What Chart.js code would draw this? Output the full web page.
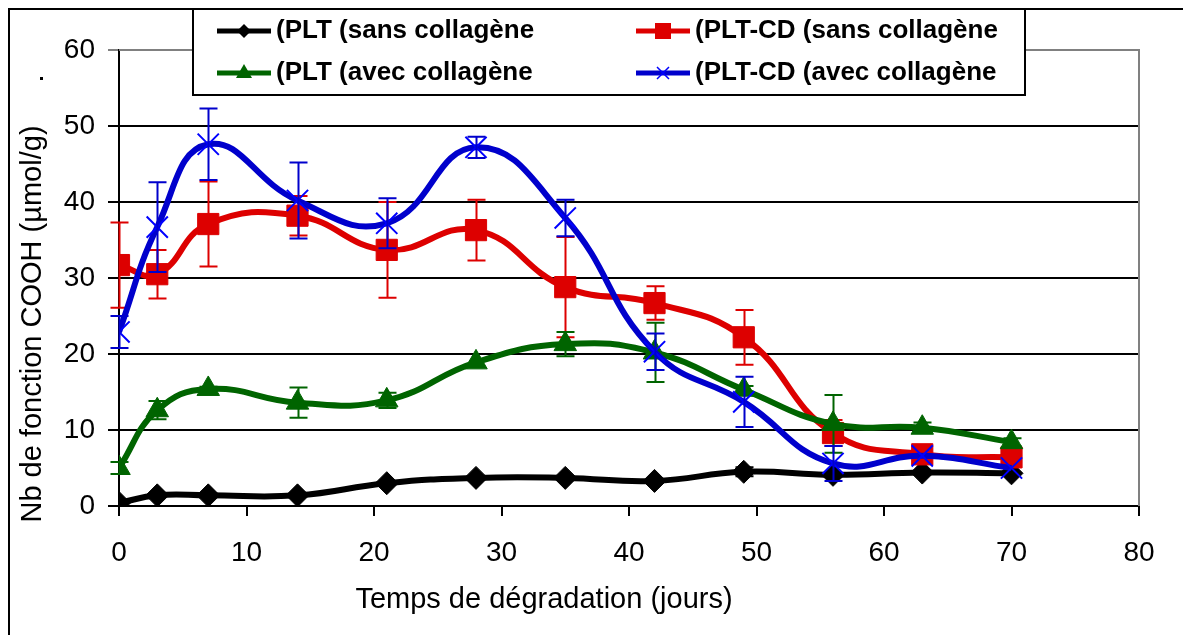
<!DOCTYPE html>
<html lang="fr">
<head>
<meta charset="UTF-8">
<title>Nb de fonction COOH</title>
<script src="https://cdn.jsdelivr.net/npm/chart.js"></script>
<style>
  html, body { margin: 0; padding: 0; background: #fff; }
  #wrap { width: 1183px; height: 635px; position: relative; }
</style>
</head>
<body>
<div id="wrap"><canvas id="chart"></canvas></div>
<script>
  // temps de dégradation (jours)
  const days = [0, 3, 7, 14, 21, 28, 35, 42, 49, 56, 63, 70];

  // Nb de fonction COOH (µmol/g)
  const pltSans = [0.4, 1.4, 1.4, 1.4, 3.0, 3.7, 3.7, 3.3, 4.5, 4.1, 4.4, 4.3];
  const pltcdSans = [31.7, 30.5, 37.1, 38.2, 33.7, 36.3, 28.8, 26.7, 22.2, 9.6, 6.8, 6.4];
  const pltAvec = [5.0, 12.6, 15.4, 13.6, 13.9, 18.9, 21.3, 20.2, 15.3, 10.8, 10.3, 8.4];
  const pltcdAvec = [22.9, 36.7, 47.6, 40.2, 37.2, 47.2, 37.9, 20.3, 13.7, 5.6, 6.6, 5.0];

  // error bars (+/-)
  const errPltSans = [0, 0, 0, 0, 0, 0, 0, 0, 0.6, 0, 0, 0];
  const errPltcdSans = [5.6, 3.2, 5.6, 2.6, 6.3, 4.0, 6.6, 2.2, 3.6, 1.7, 0, 0];
  const errPltAvec = [0.8, 1.2, 0.3, 2.0, 1.0, 0, 1.6, 3.9, 0.5, 3.8, 0.7, 0.5];
  const errPltcdAvec = [2.1, 5.9, 4.7, 5.0, 3.3, 1.4, 2.4, 2.4, 3.3, 2.3, 0, 0];

  const seriesLabels = ['(PLT (sans collagène', '(PLT-CD (sans collagène', '(PLT (avec collagène', '(PLT-CD (avec collagène'];
  const xTicks = [0, 10, 20, 30, 40, 50, 60, 70, 80];
  const yTicks = [0, 10, 20, 30, 40, 50, 60];
  const xTitle = 'Temps de dégradation (jours)';
  const yTitle = 'Nb de fonction COOH (µmol/g)';

  const BLACK = '#000000', RED = '#dd0000', GREEN = '#006400', BLUE = '#0000cc';
  const FONT = '"Liberation Sans", Arial, sans-serif';

  const toPoints = vals => days.map((d, i) => ({ x: d, y: vals[i] }));

  const datasets = [
    { label: seriesLabels[0], data: toPoints(pltSans), err: errPltSans, borderColor: BLACK, backgroundColor: BLACK,
      pointStyle: 'rectRot', pointRadius: 11.5, borderWidth: 6, order: 4 },
    { label: seriesLabels[1], data: toPoints(pltcdSans), err: errPltcdSans, borderColor: RED, backgroundColor: RED,
      pointStyle: 'rect', pointRadius: 15, borderWidth: 6, order: 3 },
    { label: seriesLabels[2], data: toPoints(pltAvec), err: errPltAvec, borderColor: GREEN, backgroundColor: GREEN,
      pointStyle: 'triangle', pointRadius: 13, borderWidth: 6, order: 2 },
    { label: seriesLabels[3], data: toPoints(pltcdAvec), err: errPltcdAvec, borderColor: BLUE, backgroundColor: BLUE,
      pointStyle: 'crossRot', pointRadius: 15, pointBorderWidth: 2, pointBorderColor: '#0000ff', borderWidth: 6, order: 1 }
  ];
  datasets.forEach(ds => {
    ds.tension = 0.45;
    ds.fill = false;
    if (ds.pointBorderWidth === undefined) ds.pointBorderWidth = 1;
  });

  // error bars drawn right after each series
  const errorBars = {
    id: 'errorBars',
    afterDatasetDraw(chart, args) {
      const ds = chart.data.datasets[args.index];
      const xs = chart.scales.x, ys = chart.scales.y;
      const ctx = chart.ctx;
      ctx.save();
      ctx.strokeStyle = ds.borderColor;
      ctx.lineWidth = 2;
      ds.data.forEach((p, i) => {
        const e = ds.err[i];
        if (!e) return;
        const px = Math.round(xs.getPixelForValue(p.x)) + 0.5;
        const top = ys.getPixelForValue(p.y + e);
        const bot = ys.getPixelForValue(p.y - e);
        ctx.beginPath();
        ctx.moveTo(px, top); ctx.lineTo(px, bot);
        ctx.moveTo(px - 9, top); ctx.lineTo(px + 9, top);
        ctx.moveTo(px - 9, bot); ctx.lineTo(px + 9, bot);
        ctx.stroke();
      });
      ctx.restore();
    }
  };

  function marker(ctx, style, x, y, color) {
    ctx.save();
    ctx.fillStyle = color;
    ctx.strokeStyle = color;
    ctx.beginPath();
    if (style === 'rectRot') {
      ctx.moveTo(x - 7, y); ctx.lineTo(x, y - 7); ctx.lineTo(x + 7, y); ctx.lineTo(x, y + 7); ctx.closePath(); ctx.fill();
    } else if (style === 'rect') {
      ctx.rect(x - 8, y - 8, 16, 16); ctx.fill();
    } else if (style === 'triangle') {
      ctx.moveTo(x, y - 9); ctx.lineTo(x + 8, y + 5); ctx.lineTo(x - 8, y + 5); ctx.closePath(); ctx.fill();
    } else {
      ctx.lineWidth = 1.5;
      ctx.strokeStyle = '#0000ff';
      ctx.moveTo(x - 6, y - 6); ctx.lineTo(x + 6, y + 6);
      ctx.moveTo(x + 6, y - 6); ctx.lineTo(x - 6, y + 6); ctx.stroke();
    }
    ctx.restore();
  }

  // frame, plot border, axis titles, legend box
  const decorations = {
    id: 'decorations',
    beforeDatasetsDraw(chart) {
      const { ctx, chartArea: a } = chart;
      ctx.save();
      ctx.strokeStyle = '#808080';
      ctx.lineWidth = 2;
      ctx.beginPath();
      ctx.moveTo(a.left, a.top); ctx.lineTo(a.right, a.top); ctx.lineTo(a.right, a.bottom);
      ctx.stroke();
      ctx.restore();
    },
    afterDraw(chart) {
      const ctx = chart.ctx;
      ctx.save();
      // outer frame
      ctx.strokeStyle = '#000';
      ctx.lineWidth = 2;
      ctx.beginPath();
      ctx.moveTo(9, 640); ctx.lineTo(9, 9); ctx.lineTo(1190, 9);
      ctx.stroke();
      // axis titles
      ctx.fillStyle = '#000';
      ctx.font = '29px ' + FONT;
      ctx.textAlign = 'center';
      ctx.textBaseline = 'middle';
      ctx.fillText(xTitle, 544, 600);
      ctx.save();
      ctx.translate(33, 324);
      ctx.rotate(-Math.PI / 2);
      ctx.fillText(yTitle, 0, 0);
      ctx.restore();
      // small dot beside the y title
      ctx.fillRect(40, 77, 3, 3);
      // legend
      const lx = 193, ly = 9, lw = 832, lh = 86;
      ctx.fillStyle = '#fff';
      ctx.fillRect(lx, ly, lw, lh);
      ctx.strokeRect(lx, ly, lw, lh);
      const cols = [217, 636];
      const rows = [31, 73];
      ctx.font = 'bold 26px ' + FONT;
      ctx.textBaseline = 'middle';
      ctx.textAlign = 'left';
      chart.data.datasets.forEach((ds, i) => {
        const x = cols[i % 2], y = rows[Math.floor(i / 2)];
        ctx.strokeStyle = ds.borderColor;
        ctx.lineWidth = 5;
        ctx.beginPath();
        ctx.moveTo(x, y); ctx.lineTo(x + 54, y);
        ctx.stroke();
        marker(ctx, ds.pointStyle, x + 27, y, ds.borderColor);
        ctx.fillStyle = '#000';
        ctx.fillText(ds.label, x + 59, y);
      });
      ctx.restore();
    }
  };

  const tickFont = { family: FONT, size: 28 };

  new Chart(document.getElementById('chart'), {
    type: 'line',
    data: { datasets },
    plugins: [errorBars, decorations],
    options: {
      responsive: true,
      maintainAspectRatio: false,
      animation: false,
      layout: { padding: { top: 50, right: 44, left: 0, bottom: 0 } },
      plugins: { legend: { display: false }, tooltip: { enabled: false } },
      scales: {
        x: {
          type: 'linear',
          min: 0, max: 80,
          afterBuildTicks: s => { s.ticks = xTicks.map(v => ({ value: v })); },
          afterFit: s => { s.height = 129; },
          ticks: { color: '#000', font: tickFont, padding: 20, maxRotation: 0 },
          grid: { drawOnChartArea: false, color: '#000', lineWidth: 2, tickLength: 10 },
          border: { color: '#000', width: 2 }
        },
        y: {
          min: 0, max: 60,
          afterBuildTicks: s => { s.ticks = yTicks.map(v => ({ value: v })); },
          afterFit: s => { s.width = 119; },
          ticks: { color: '#000', font: tickFont, padding: 13 },
          grid: { color: ctx => (ctx.tick && ctx.tick.value === 60 ? '#808080' : '#000'), lineWidth: 2, tickLength: 11 },
          border: { color: '#000', width: 2 }
        }
      }
    }
  });
</script>
</body>
</html>
